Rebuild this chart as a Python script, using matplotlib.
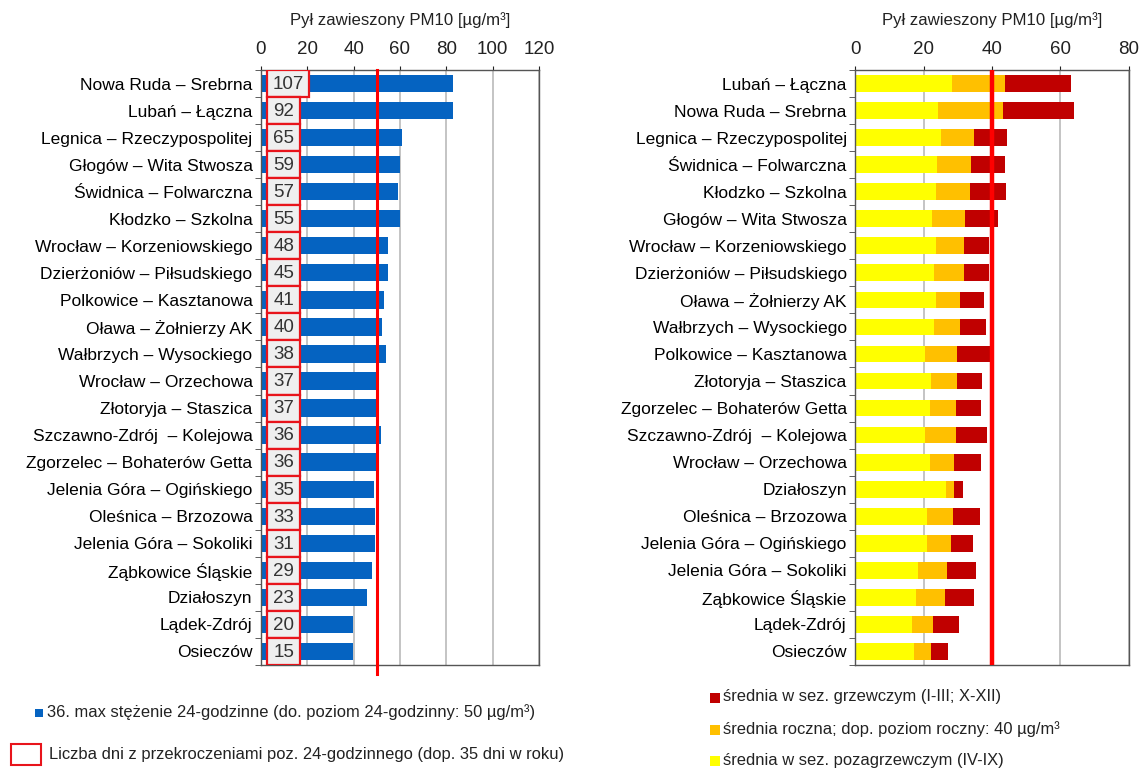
import numpy as np
import matplotlib
matplotlib.use("Agg")
import matplotlib.pyplot as plt
from matplotlib.patches import Rectangle

plt.rcParams['font.family'] = ['Liberation Sans Narrow', 'Liberation Sans', 'DejaVu Sans']

# left panel: 36th max 24h concentration + days over limit
left_stations = [
    "Nowa Ruda – Srebrna", "Lubań – Łączna", "Legnica – Rzeczypospolitej",
    "Głogów – Wita Stwosza", "Świdnica – Folwarczna", "Kłodzko – Szkolna",
    "Wrocław – Korzeniowskiego", "Dzierżoniów – Piłsudskiego", "Polkowice – Kasztanowa",
    "Oława – Żołnierzy AK", "Wałbrzych – Wysockiego", "Wrocław – Orzechowa",
    "Złotoryja – Staszica", "Szczawno-Zdrój  – Kolejowa", "Zgorzelec – Bohaterów Getta",
    "Jelenia Góra – Ogińskiego", "Oleśnica – Brzozowa", "Jelenia Góra – Sokoliki",
    "Ząbkowice Śląskie", "Działoszyn", "Lądek-Zdrój", "Osieczów",
]
max36 = [83.1, 83.0, 61.1, 60.1, 59.2, 60.0, 55.0, 55.0, 53.3, 52.3, 54.0,
         50.4, 50.4, 51.7, 50.4, 48.8, 49.4, 49.4, 48.0, 45.7, 39.9, 39.9]
days_over = [107, 92, 65, 59, 57, 55, 48, 45, 41, 40, 38, 37, 37, 36, 36,
             35, 33, 31, 29, 23, 20, 15]
limit_24h = 50

# right panel: seasonal and annual means
right_stations = [
    "Lubań – Łączna", "Nowa Ruda – Srebrna", "Legnica – Rzeczypospolitej",
    "Świdnica – Folwarczna", "Kłodzko – Szkolna", "Głogów – Wita Stwosza",
    "Wrocław – Korzeniowskiego", "Dzierżoniów – Piłsudskiego", "Oława – Żołnierzy AK",
    "Wałbrzych – Wysockiego", "Polkowice – Kasztanowa", "Złotoryja – Staszica",
    "Zgorzelec – Bohaterów Getta", "Szczawno-Zdrój  – Kolejowa", "Wrocław – Orzechowa",
    "Działoszyn", "Oleśnica – Brzozowa", "Jelenia Góra – Ogińskiego",
    "Jelenia Góra – Sokoliki", "Ząbkowice Śląskie", "Lądek-Zdrój", "Osieczów",
]
mean_nonheating = [28.3, 24.1, 25.0, 23.9, 23.6, 22.6, 23.6, 23.1, 23.6, 23.2, 20.5,
                   22.1, 21.9, 20.5, 21.9, 26.6, 21.0, 21.1, 18.5, 17.7, 16.6, 17.3]
mean_annual = [43.9, 43.1, 34.8, 33.8, 33.5, 32.2, 31.9, 31.8, 30.7, 30.7, 29.7,
               29.7, 29.4, 29.4, 29.0, 29.0, 28.7, 27.9, 27.0, 26.3, 22.9, 22.1]
mean_heating = [63.1, 64.0, 44.3, 43.7, 44.0, 41.8, 39.2, 39.2, 37.8, 38.2, 39.3,
                37.2, 36.8, 38.5, 36.8, 31.6, 36.4, 34.4, 35.4, 34.8, 30.3, 27.1]
limit_annual = 40

xlabel = "Pył zawieszony PM10 [µg/m³]"
blue = "#0563C1"
dark_red = "#C00000"
orange = "#FFC000"
yellow = "#FFFF00"
line_red = "#FF0000"
grid_col = "#BFBFBF"
FS = 12.5
LEG_FS = 11.9


def style_axis(ax, n, xmax, step):
    ax.set_xlim(0, xmax)
    ax.set_ylim(n - 0.5, -0.5)
    ax.set_xticks(np.arange(0, xmax + 1, step))
    ax.xaxis.tick_top()
    ax.xaxis.set_label_position("top")
    ax.set_xlabel(xlabel, fontsize=12.1, labelpad=11, color="#222222")
    ax.tick_params(axis="x", length=3, labelsize=FS + 1, pad=6, colors="#222222")
    ax.set_yticks(np.arange(n))
    ax.set_yticks(np.arange(n + 1) - 0.5, minor=True)
    ax.tick_params(axis="y", which="major", length=0, labelsize=FS, pad=6)
    ax.tick_params(axis="y", which="minor", length=4, color="#444444")
    ax.grid(axis="x", color=grid_col, linewidth=1.3, zorder=0)
    ax.set_axisbelow(True)
    for s in ax.spines.values():
        s.set_color("#555555")
        s.set_linewidth(1.0)


fig = plt.figure(figsize=(11.42, 7.71), dpi=100)

# left panel
ax1 = fig.add_axes([0.2285, 0.1375, 0.2434, 0.7717])
n1 = len(left_stations)
y1 = np.arange(n1)
ax1.barh(y1, max36, height=0.64, color=blue, zorder=2)
style_axis(ax1, n1, 120, 20)
ax1.set_yticklabels(left_stations)
ax1.axvline(limit_24h, color=line_red, linewidth=2.2, zorder=4, ymin=-0.015, clip_on=False)
for i, d in enumerate(days_over):
    w = 18.0 if d >= 100 else 14.2
    ax1.add_patch(Rectangle((2.7, i - 0.5), w, 1.0, facecolor="#EFEFEF",
                            edgecolor="#E8141B", linewidth=1.6, zorder=5))
    ax1.text(2.7 + w / 2, i + 0.03, str(d), ha="center", va="center",
             fontsize=FS + 1, color="#333333", zorder=6)

# right panel
ax2 = fig.add_axes([0.7487, 0.1375, 0.2399, 0.7717])
n2 = len(right_stations)
y2 = np.arange(n2)
ax2.barh(y2, mean_heating, height=0.62, color=dark_red, zorder=2)
ax2.barh(y2, mean_annual, height=0.62, color=orange, zorder=2)
ax2.barh(y2, mean_nonheating, height=0.62, color=yellow, zorder=2)
style_axis(ax2, n2, 80, 20)
ax2.set_yticklabels(right_stations)
ax2.axvline(limit_annual, color=line_red, linewidth=3.2, zorder=4)

# legends (drawn by hand to mimic the source layout)
fig.patches.append(Rectangle((35 / 1142, 1 - 717 / 771), 8 / 1142, 8 / 771,
                             transform=fig.transFigure, facecolor=blue, edgecolor="none"))
fig.text(47 / 1142, 1 - 712 / 771, "36. max stężenie 24-godzinne (do. poziom 24-godzinny: 50 µg/m³)",
         fontsize=LEG_FS, va="center", color="#222222")
fig.patches.append(Rectangle((11 / 1142, 1 - 765 / 771), 30 / 1142, 21 / 771,
                             transform=fig.transFigure, facecolor="none",
                             edgecolor="#E8141B", linewidth=1.5))
fig.text(49 / 1142, 1 - 755 / 771, "Liczba dni z przekroczeniami poz. 24-godzinnego (dop. 35 dni w roku)",
         fontsize=LEG_FS, va="center", color="#222222")

leg_items = [
    (dark_red, "średnia w sez. grzewczym (I-III; X-XII)", 697),
    (orange, "średnia roczna; dop. poziom roczny: 40 µg/m³", 729),
    (yellow, "średnia w sez. pozagrzewczym (IV-IX)", 760),
]
for col, txt, ypix in leg_items:
    fig.patches.append(Rectangle((710 / 1142, 1 - (ypix + 6) / 771), 10 / 1142, 10 / 771,
                                 transform=fig.transFigure, facecolor=col, edgecolor="none"))
    fig.text(723 / 1142, 1 - ypix / 771, txt, fontsize=LEG_FS, va="center", color="#222222")

fig.savefig("out.png", dpi=100)
